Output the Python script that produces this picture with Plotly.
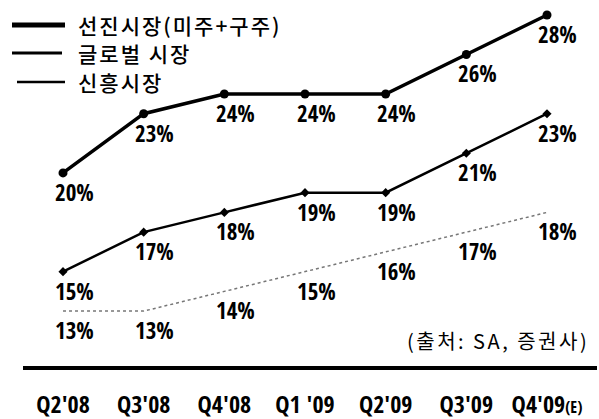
import plotly.graph_objects as go

# ---- data ----
quarters = ["Q2'08", "Q3'08", "Q4'08", "Q1 '09", "Q2'09", "Q3'09", "Q4'09(E)"]
tick_labels = ["Q2'08", "Q3'08", "Q4'08", "Q1 '09", "Q2'09", "Q3'09",
               "Q4'09<span style='font-size:16px'>(E)</span>"]
developed = [20, 23, 24, 24, 24, 26, 28]      # 선진시장(미주+구주)
global_mkt = [15, 17, 18, 19, 19, 21, 23]     # 글로벌 시장
emerging = [13, 13, 14, 15, 16, 17, 18]       # 신흥시장
series_names = ["선진시장(미주+구주)", "글로벌 시장", "신흥시장"]
source_text = "(출처: SA, 증권사)"

W, H = 599, 419
ML, MR, MT, MB = 23, 2, 0, 53
PW, PH = W - ML - MR, H - MT - MB

NUM_FONT = "Open Sans Condensed, Roboto Condensed, sans-serif"
KR_FONT = "Noto Sans CJK KR, sans-serif"

def px(x):
    return (x - ML) / PW

def py(y):
    return 1 - (y - MT) / PH

xs = list(range(len(quarters)))

fig = go.Figure()
fig.add_trace(go.Scatter(x=xs, y=developed, name=series_names[0], mode="lines+markers",
                         line=dict(color="black", width=3.5),
                         marker=dict(symbol="circle", size=9, color="black"),
                         cliponaxis=False, showlegend=False, hoverinfo="skip"))
fig.add_trace(go.Scatter(x=xs, y=global_mkt, name=series_names[1], mode="lines+markers",
                         line=dict(color="black", width=2.5),
                         marker=dict(symbol="diamond", size=7, color="black"),
                         cliponaxis=False, showlegend=False, hoverinfo="skip"))
fig.add_trace(go.Scatter(x=xs, y=emerging, name=series_names[2], mode="lines",
                         line=dict(color="#777777", width=1.5, dash="dot"),
                         cliponaxis=False, showlegend=False, hoverinfo="skip"))

annotations = []
for vals in (developed, global_mkt, emerging):
    for i, v in enumerate(vals):
        annotations.append(dict(x=i, y=v, xref="x", yref="y", text=f"<b>{v}%</b>",
                                showarrow=False, xshift=11, yshift=-19,
                                font=dict(family=NUM_FONT, size=23, color="black")))

# custom legend
leg = [(12, 65, 25, 5), (12, 62, 53, 3), (17, 65, 82, 2.5)]
shapes = []
for (x0, x1, y, w), name in zip(leg, series_names):
    shapes.append(dict(type="line", xref="paper", yref="paper",
                       x0=px(x0), x1=px(x1), y0=py(y), y1=py(y),
                       line=dict(color="black", width=w)))
    annotations.append(dict(x=px(76), y=py(y), xref="paper", yref="paper",
                            text=f"<span style='letter-spacing:2px'>{name}</span>",
                            xanchor="left", yanchor="middle", showarrow=False,
                            font=dict(family=KR_FONT, size=21, color="black", weight=500)))

annotations.append(dict(x=px(591), y=py(340), xref="paper", yref="paper",
                        text=f"<span style='letter-spacing:2.5px'>{source_text}</span>",
                        xanchor="right", yanchor="middle", showarrow=False,
                        font=dict(family=KR_FONT, size=20, color="black")))

fig.update_layout(
    width=W, height=H,
    margin=dict(l=ML, r=MR, t=MT, b=MB),
    plot_bgcolor="white", paper_bgcolor="white",
    showlegend=False,
    shapes=shapes, annotations=annotations,
    xaxis=dict(range=[-0.496, 6.62], tickvals=xs, ticktext=[f"<b>{t}</b>" for t in tick_labels],
               showline=True, linecolor="black", linewidth=4, showgrid=False, zeroline=False,
               ticks="", ticklabelstandoff=14,
               tickfont=dict(family=NUM_FONT, size=24, color="black")),
    yaxis=dict(range=[10.22, 28.76], visible=False, showgrid=False, zeroline=False),
)

fig.write_html("out.html", config={"displayModeBar": False},
               post_script="document.body.style.margin='0px';")
